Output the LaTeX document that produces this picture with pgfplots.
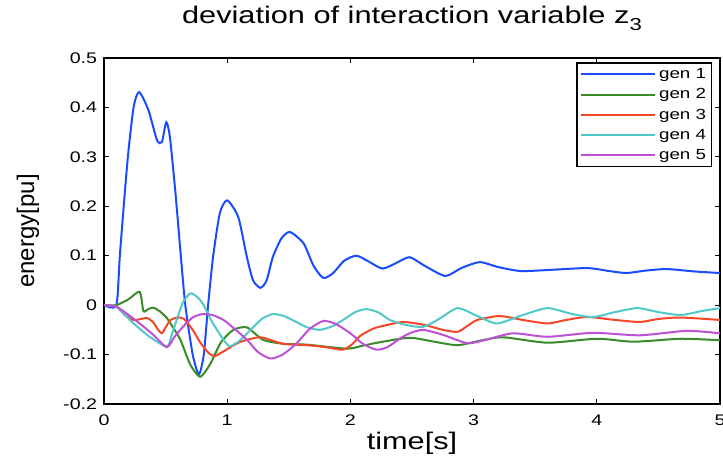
\documentclass[border=0pt]{standalone}
\usepackage{pgfplots}
\pgfplotsset{compat=1.18}
\usepackage{fontspec}
\setmainfont{Liberation Sans}[FakeStretch=1.28]
\newfontfamily\ylfont{Liberation Sans}
\definecolor{c1}{RGB}{25,75,255}
\definecolor{c2}{RGB}{55,140,40}
\definecolor{c3}{RGB}{245,70,40}
\definecolor{c4}{RGB}{80,200,200}
\definecolor{c5}{RGB}{190,80,215}
\begin{document}
\begin{tikzpicture}
\begin{axis}[
  name=ax,
  scale only axis,
  width=462pt, height=259.5pt,
  xmin=0, xmax=5, ymin=-0.2, ymax=0.5,
  xtick={0,1,2,3,4,5},
  ytick={-0.2,-0.1,0,0.1,0.2,0.3,0.4,0.5},
  tick align=inside, tick pos=both,
  major tick length=4pt,
  axis line style={line width=0.9pt},
  tick style={line width=0.9pt, black},
  /pgf/number format/assume math mode=true,
  yticklabel style={/pgf/number format/fixed, /pgf/number format/precision=1, font=\fontsize{11.5}{13}\selectfont, inner sep=0pt, xshift=-5pt},
  xticklabel style={font=\fontsize{11.5}{13}\selectfont, inner sep=0pt, yshift=-8pt},
  xlabel={time[s]}, ylabel={energy[pu]},
  xlabel style={font=\fontsize{18}{20}\selectfont, at={(axis description cs:0.5,0)}, anchor=north, inner sep=0pt, yshift=-21pt},
  ylabel style={font=\ylfont\fontsize{18}{20}\selectfont, at={(axis description cs:-0.1234,0.5)}, anchor=center, inner sep=0pt},
  title={deviation of interaction variable z\raisebox{-0.55ex}{\fontsize{13}{14}\selectfont 3}},
  title style={font=\fontsize{18}{20}\selectfont, at={(axis description cs:0.5,1)}, anchor=base, inner sep=0pt, yshift=19.5pt},
  legend style={at={(0.987,0.987)}, anchor=north east, draw=black, line width=0.9pt, font=\fontsize{11}{13}\selectfont, inner sep=2pt, row sep=2pt, nodes={inner sep=2pt}, cells={anchor=west}},
  legend image code/.code={\draw[#1, line width=1.5pt] (0pt,0pt) -- (56pt,0pt);},
  every axis plot/.append style={line width=1.5pt, smooth, tension=0.4},
]
\addplot[c1] coordinates {(0,0)(0.1,0)(0.13,0.105)(0.19,0.29)(0.24,0.40)(0.285,0.431)(0.36,0.395)(0.43,0.334)(0.47,0.33)(0.505,0.37)(0.535,0.34)(0.58,0.227)(0.62,0.11)(0.66,0.0)(0.72,-0.1)(0.77,-0.14)(0.81,-0.1)(0.845,0.0)(0.885,0.097)(0.94,0.186)(1.0,0.212)(1.09,0.178)(1.16,0.097)(1.21,0.05)(1.27,0.035)(1.32,0.05)(1.37,0.097)(1.44,0.135)(1.51,0.148)(1.62,0.125)(1.7,0.08)(1.78,0.055)(1.86,0.065)(1.95,0.09)(2.05,0.10)(2.15,0.088)(2.26,0.074)(2.37,0.085)(2.48,0.097)(2.6,0.08)(2.77,0.059)(2.9,0.075)(3.05,0.087)(3.2,0.077)(3.38,0.069)(3.6,0.071)(3.92,0.075)(4.1,0.069)(4.24,0.065)(4.4,0.07)(4.57,0.073)(4.8,0.068)(5.0,0.065)};
\addlegendentry{gen 1}
\addplot[c2] coordinates {(0,0)(0.1,0)(0.2,0.012)(0.29,0.027)(0.32,-0.012)(0.36,-0.008)(0.40,-0.005)(0.45,-0.012)(0.51,-0.026)(0.56,-0.045)(0.62,-0.07)(0.7,-0.12)(0.78,-0.145)(0.86,-0.12)(0.95,-0.075)(1.05,-0.05)(1.16,-0.045)(1.29,-0.07)(1.45,-0.078)(1.65,-0.08)(1.97,-0.088)(2.1,-0.082)(2.24,-0.075)(2.48,-0.066)(2.68,-0.074)(2.87,-0.081)(3.05,-0.072)(3.24,-0.065)(3.6,-0.076)(4.0,-0.068)(4.3,-0.074)(4.68,-0.068)(5,-0.071)};
\addlegendentry{gen 2}
\addplot[c3] coordinates {(0,0)(0.1,-0.003)(0.17,-0.02)(0.24,-0.03)(0.30,-0.028)(0.35,-0.026)(0.40,-0.035)(0.44,-0.05)(0.47,-0.057)(0.5,-0.045)(0.54,-0.03)(0.6,-0.025)(0.65,-0.028)(0.72,-0.05)(0.78,-0.075)(0.85,-0.097)(0.9,-0.103)(0.98,-0.092)(1.1,-0.075)(1.27,-0.065)(1.45,-0.078)(1.65,-0.081)(1.8,-0.085)(1.94,-0.09)(2.02,-0.078)(2.08,-0.062)(2.19,-0.047)(2.3,-0.04)(2.43,-0.034)(2.6,-0.04)(2.75,-0.05)(2.87,-0.054)(2.95,-0.042)(3.03,-0.03)(3.21,-0.022)(3.4,-0.03)(3.6,-0.037)(3.75,-0.03)(3.92,-0.024)(4.15,-0.03)(4.35,-0.034)(4.5,-0.028)(4.68,-0.025)(5,-0.03)};
\addlegendentry{gen 3}
\addplot[c4] coordinates {(0,0)(0.1,-0.003)(0.17,-0.02)(0.24,-0.037)(0.37,-0.064)(0.51,-0.084)(0.55,-0.06)(0.59,-0.03)(0.64,0.005)(0.70,0.024)(0.75,0.018)(0.8,0.004)(0.88,-0.035)(0.97,-0.07)(1.02,-0.083)(1.1,-0.072)(1.19,-0.05)(1.28,-0.028)(1.37,-0.018)(1.46,-0.022)(1.56,-0.034)(1.65,-0.045)(1.75,-0.05)(1.85,-0.043)(1.94,-0.03)(2.04,-0.014)(2.13,-0.008)(2.23,-0.015)(2.32,-0.03)(2.45,-0.04)(2.59,-0.044)(2.72,-0.028)(2.87,-0.006)(3.03,-0.022)(3.19,-0.037)(3.4,-0.02)(3.6,-0.006)(3.8,-0.018)(3.97,-0.024)(4.15,-0.014)(4.33,-0.006)(4.5,-0.014)(4.68,-0.02)(4.85,-0.012)(5,-0.006)};
\addlegendentry{gen 4}
\addplot[c5] coordinates {(0,0)(0.1,-0.003)(0.2,-0.02)(0.29,-0.037)(0.4,-0.06)(0.51,-0.085)(0.57,-0.065)(0.64,-0.044)(0.72,-0.025)(0.8,-0.018)(0.88,-0.02)(0.97,-0.03)(1.06,-0.048)(1.16,-0.07)(1.25,-0.095)(1.35,-0.108)(1.45,-0.1)(1.56,-0.078)(1.67,-0.048)(1.78,-0.032)(1.88,-0.038)(2.0,-0.057)(2.1,-0.078)(2.21,-0.09)(2.3,-0.085)(2.4,-0.068)(2.48,-0.057)(2.59,-0.05)(2.75,-0.06)(2.95,-0.077)(3.1,-0.07)(3.32,-0.057)(3.6,-0.064)(3.97,-0.056)(4.35,-0.061)(4.73,-0.052)(5,-0.057)};
\addlegendentry{gen 5}
\end{axis}
\pgfresetboundingbox
\path (-78pt,-39pt) rectangle (464.25pt,303pt);
\end{tikzpicture}
\end{document}
